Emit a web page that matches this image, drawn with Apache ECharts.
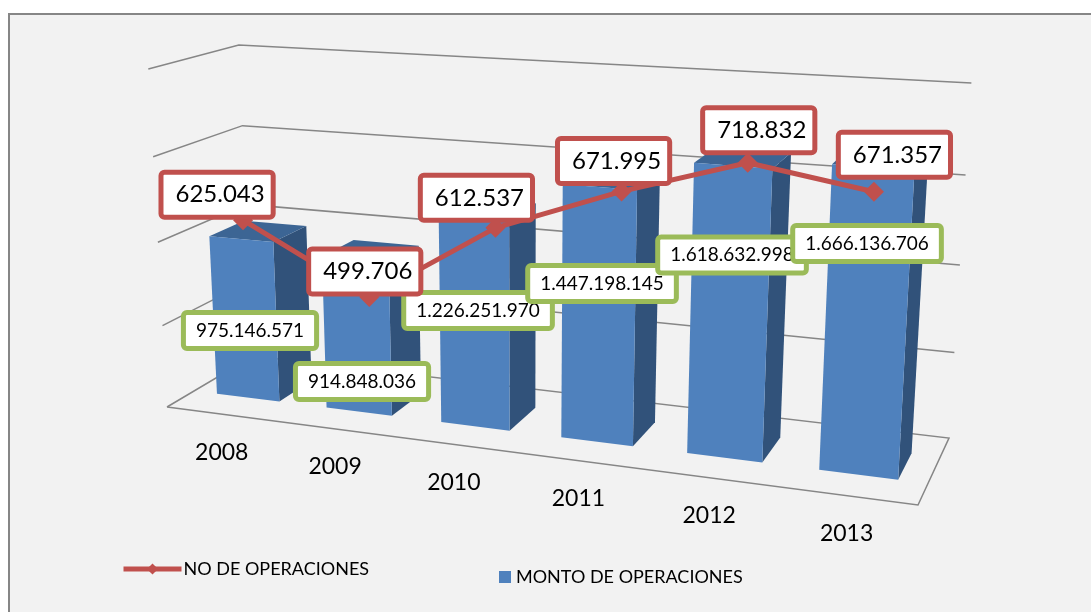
<!DOCTYPE html>
<html><head><meta charset="utf-8">
<style>html,body{margin:0;padding:0;background:#fff}#c{width:1091px;height:612px}</style>
<script src="https://cdn.jsdelivr.net/npm/echarts@6/dist/echarts.min.js"></script>
</head><body><div id="c"></div>
<script>
const categories = ['2008','2009','2010','2011','2012','2013'];
const montoValues = [975146571, 914848036, 1226251970, 1447198145, 1618632998, 1666136706];
const numeroValues = [625043, 499706, 612537, 671995, 718832, 671357];
const gridLevels = [0, 500000000, 1000000000, 1500000000, 2000000000];
const fmt = v => String(v).replace(/\B(?=(\d{3})+(?!\d))/g, '.');

// 3D view: floor quad (front-left, front-right, back-right, back-left) and wall rise
const floorQuad = [[167,407],[918,505],[949,438],[253,356]];
const riseCorners = [338,385,355,311];
const lineLabelOffsets = [[-26,-25.5],[-4.5,-25.5],[-19,-30],[-8,-30.5],[11,-32.5],[20.5,-37]];
const barLabelOffsets = [[5.4,11.2],[4.9,44.9],[3.6,-12.5],[3.8,-33.2],[3.4,-59.7],[1.5,-80.8]];

function homography(q){
  const [[x0,y0],[x1,y1],[x2,y2],[x3,y3]] = q;
  const dx1=x1-x2,dx2=x3-x2,sx=x0-x1+x2-x3,dy1=y1-y2,dy2=y3-y2,sy=y0-y1+y2-y3;
  const det=dx1*dy2-dx2*dy1, g=(sx*dy2-dx2*sy)/det, h=(dx1*sy-sx*dy1)/det;
  const a=x1-x0+g*x1,b=x3-x0+h*x3,d=y1-y0+g*y1,e=y3-y0+h*y3;
  return (u,v)=>{const w=g*u+h*v+1;return [(a*u+b*v+x0)/w,(d*u+e*v+y0)/w];};
}
const Hf=homography(floorQuad);
const project=(s,d,t)=>{
  const p=Hf(s,d), te=t-0.05*t*(1-t);
  const r=(riseCorners[0]*(1-s)+riseCorners[1]*s)*(1-d)+(riseCorners[3]*(1-s)+riseCorners[2]*s)*d;
  return [p[0]+0.0525*(p[0]-523)*te, p[1]-r*te];
};
const toView=(pt,cs)=>[(pt[0]-cs.x)/cs.width,(cs.y+cs.height-pt[1])/cs.height];

const depthFront=0.3, depthBack=0.7, barShare=0.575;

const font='Lato, Carlito, sans-serif';
const option={
  animation:false,
  backgroundColor:'#ffffff',
  graphic:[{type:'rect',z:-10,shape:{x:9,y:14,width:1200,height:700},style:{fill:'#f2f2f2',stroke:'#868686',lineWidth:2}}],
  grid:{left:180,top:113,width:757,height:245,containLabel:false},
  xAxis:{type:'category',data:categories,show:false},
  yAxis:[
    {type:'value',min:0,max:2000000000,show:false},
    {type:'value',min:400000,max:800000,show:false}
  ],
  legend:[
    {data:['NO DE OPERACIONES'],left:121,top:560,padding:0,itemWidth:58,itemHeight:14,itemGap:1,lineStyle:{width:5},textStyle:{fontFamily:font,fontSize:18,color:'#000',padding:[0,0,0,-3]}},
    {data:[{name:'MONTO DE OPERACIONES',icon:'rect'}],left:499,top:568,padding:0,itemWidth:12,itemHeight:12,textStyle:{fontFamily:font,fontSize:18,color:'#000'}}
  ],
  series:[
    {type:'custom',name:'rejilla',z:1,silent:true,data:gridLevels.map(l=>[0,l]),encode:{x:0,y:1},
     renderItem(params,api){
       const cs=params.coordSys, t=toView(api.coord([0,api.value(1)]),cs)[1];
       const pts=[project(0,0,t),project(0,1,t),project(1,1,t)];
       return {type:'polyline',shape:{points:t===0?pts.concat([project(1,0,t),project(0,0,t)]):pts},style:{fill:null,stroke:'#868686',lineWidth:1.5}};
     }},
    {type:'custom',name:'MONTO DE OPERACIONES',z:2,itemStyle:{color:'#4f81bd'},
     data:categories.map((c,i)=>[i,montoValues[i]]),encode:{x:0,y:1},
     renderItem(params,api){
       const cs=params.coordSys,i=api.value(0),top=api.coord([i,api.value(1)]);
       const hw=api.size([1,0])[0]*barShare/2;
       const l=(top[0]-hw-cs.x)/cs.width,r=(top[0]+hw-cs.x)/cs.width,t=toView(top,cs)[1];
       const P=project;
       const poly=(a,f)=>({type:'polygon',shape:{points:a},style:{fill:f}});
       return {type:'group',children:[
         poly([P(r,depthFront,0),P(r,depthBack,0),P(r,depthBack,t),P(r,depthFront,t)],'#31527a'),
         poly([P(l,depthFront,t),P(r,depthFront,t),P(r,depthBack,t),P(l,depthBack,t)],'#3c6594'),
         poly([P(l,depthFront,0),P(r,depthFront,0),P(r,depthFront,t),P(l,depthFront,t)],'#4f81bd')
       ]};
     }},
    {type:'custom',name:'anos',z:3,silent:true,data:categories.map((c,i)=>[i,0]),encode:{x:0,y:1},
     renderItem(params,api){
       const cs=params.coordSys,i=api.value(0),s=(api.coord([i,0])[0]-cs.x)/cs.width,p=project(s,0,0);
       return {type:'text',x:p[0],y:p[1]+38,style:{text:categories[i],fontFamily:font,fontSize:23,fill:'#000',align:'center',verticalAlign:'middle'}};
     }},
    {type:'custom',name:'etiquetas',z:3,silent:true,data:categories.map((c,i)=>[i,montoValues[i]]),encode:{x:0,y:1},
     renderItem(params,api){
       const cs=params.coordSys,i=api.value(0),top=api.coord([i,api.value(1)]);
       const v=toView(top,cs),p=project(v[0],depthFront,v[1]/2),o=barLabelOffsets[i];
       return {type:'text',x:p[0]+o[0],y:p[1]+o[1],z2:i,style:{text:fmt(api.value(1)),fontFamily:font,fontSize:19,fill:'#000',align:'center',verticalAlign:'middle',
         backgroundColor:'#fff',borderColor:'#9bbb59',borderWidth:5,borderRadius:1,padding:[6,10,6,10]}};
     }},
    {type:'line',name:'NO DE OPERACIONES',yAxisIndex:1,z:4,
     data:numeroValues.map((v,i)=>({value:v,label:{offset:lineLabelOffsets[i]}})),
     symbol:'diamond',symbolSize:20,lineStyle:{color:'#c0504d',width:5},itemStyle:{color:'#c0504d'},
     label:{show:true,position:'inside',formatter:p=>fmt(p.value),fontFamily:font,fontSize:24,color:'#000',backgroundColor:'#fff',borderColor:'#c0504d',borderWidth:5,borderRadius:1,padding:[8,6,8,12]}}
  ]
};
const chart=echarts.init(document.getElementById('c'),null,{renderer:'canvas'});
chart.setOption(option);
</script></body></html>
